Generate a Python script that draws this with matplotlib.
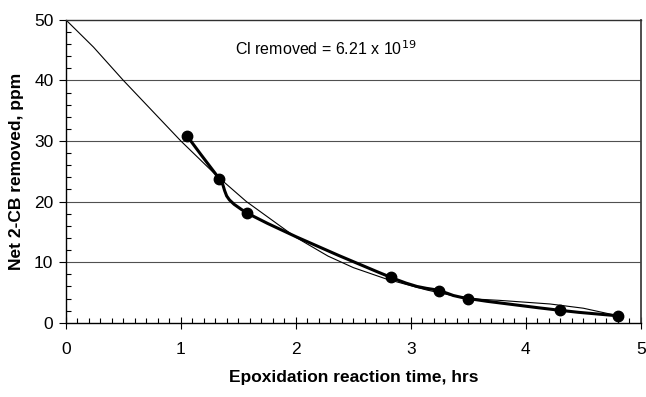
import numpy as np
import matplotlib
matplotlib.use("Agg")
import matplotlib.pyplot as plt
from matplotlib.path import Path
from matplotlib.patches import PathPatch
from matplotlib.ticker import MultipleLocator

plt.rcParams['font.family'] = ['Liberation Sans', 'DejaVu Sans']

# measured points (thick line with markers)
meas_t = [1.055, 1.333, 1.571, 2.826, 3.243, 3.50, 4.30, 4.80]
meas_ppm = [30.8, 23.8, 18.2, 7.5, 5.3, 4.0, 2.05, 1.15]

# model curve (thin line)
model_t = [0.0, 0.24, 0.5, 1.0, 1.31, 1.57, 2.0, 2.28, 2.5, 2.79, 3.14,
           3.48, 3.77, 4.21, 4.5, 4.79]
model_ppm = [50.0, 45.5, 40.0, 30.0, 24.3, 20.0, 14.1, 11.0, 9.1, 7.2, 5.4,
             4.0, 3.7, 3.1, 2.4, 1.2]


# Excel-like smoothed line through the points (Catmull-Rom as bezier)
def smooth_path(x, y):
    pts = np.column_stack([x, y])
    ext = np.vstack([pts[0], pts, pts[-1]])
    verts = [pts[0]]
    codes = [Path.MOVETO]
    for i in range(len(pts) - 1):
        p0, p1, p2, p3 = ext[i], ext[i + 1], ext[i + 2], ext[i + 3]
        verts += [p1 + (p2 - p0) / 6, p2 - (p3 - p1) / 6, p2]
        codes += [Path.CURVE4] * 3
    return Path(verts, codes)


fig = plt.figure(figsize=(6.46, 3.97), dpi=100)
ax = fig.add_axes([0.102, 0.187, 0.890, 0.763])

ax.set_xlim(0, 5)
ax.set_ylim(0, 50)

for v in [10, 20, 30, 40]:
    ax.axhline(v, color='#505050', lw=0.8, zorder=1)

ax.plot(model_t, model_ppm, color='black', lw=0.8, zorder=2)
ax.add_patch(PathPatch(smooth_path(meas_t, meas_ppm), facecolor='none',
                       edgecolor='black', lw=2.2, zorder=3))
ax.plot(meas_t, meas_ppm, 'o', color='black', ms=7.5, zorder=4)

ax.text(1.47, 45.3, r'Cl removed = 6.21 x 10$^{19}$', fontsize=11.5,
        va='center', ha='left')

ax.xaxis.set_major_locator(MultipleLocator(1))
ax.xaxis.set_minor_locator(MultipleLocator(0.1))
ax.yaxis.set_major_locator(MultipleLocator(10))
ax.yaxis.set_minor_locator(MultipleLocator(2))

ax.tick_params(axis='x', which='major', direction='inout', length=9,
               width=0.8, pad=9, labelsize=12.5)
ax.tick_params(axis='x', which='minor', direction='in', length=3.5, width=0.8)
ax.tick_params(axis='y', which='major', direction='out', length=5,
               width=0.8, pad=4, labelsize=12.5)
ax.tick_params(axis='y', which='minor', direction='in', length=3.5, width=0.8)

for s in ['left', 'bottom']:
    ax.spines[s].set_linewidth(1.0)
    ax.spines[s].set_color('black')
ax.spines['top'].set_color('#303030')
ax.spines['top'].set_linewidth(1.0)
ax.spines['right'].set_color('#404040')
ax.spines['right'].set_linewidth(1.3)

ax.set_xlabel('Epoxidation reaction time, hrs', fontsize=12.5,
              fontweight='bold', labelpad=10)
ax.set_ylabel('Net 2-CB removed, ppm', fontsize=12.5, fontweight='bold',
              labelpad=7)

fig.savefig('out.png', dpi=100)
